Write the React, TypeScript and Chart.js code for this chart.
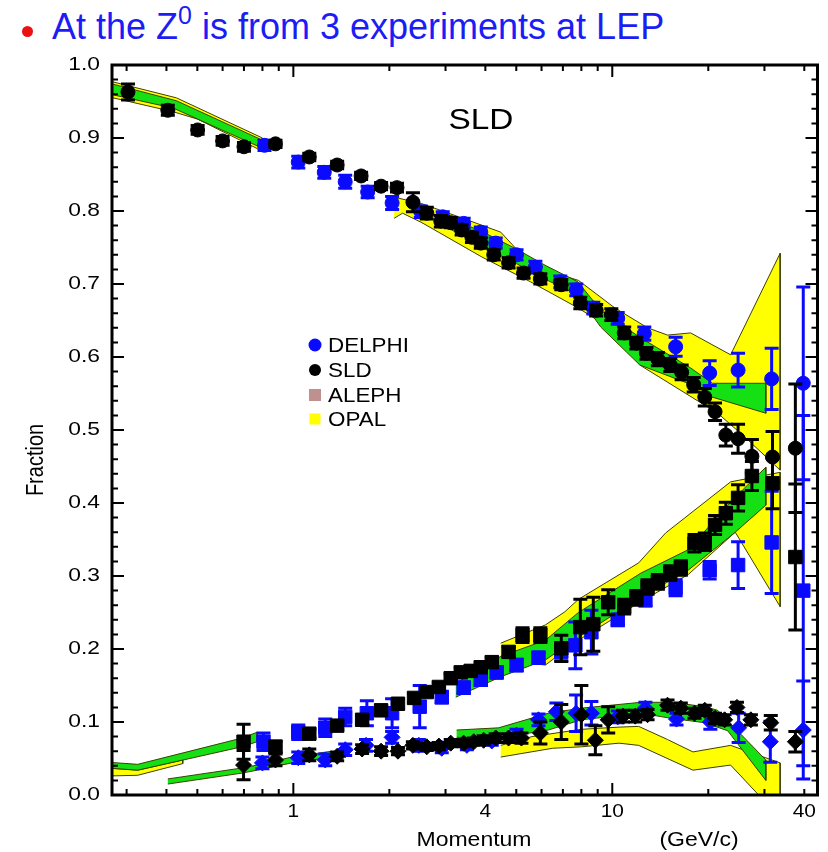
import React, { useEffect, useRef } from 'react';
import { Chart, registerables } from 'chart.js';

Chart.register(...registerables);

const FONT = '"Liberation Sans", Arial, Helvetica, sans-serif';
const BLUE = '#0a0aff';
const BLACK = '#000000';
const YELLOW = '#ffff00';
const GREEN = '#14e014';
const BAND_EDGE = '#3d4000';

// ---------- axes ----------
const X_MIN = 0.27;
const X_MAX = 44;
const X_LABELS = [1, 4, 10, 40];
const X_MAJOR_TICKS = [1, 10];
const X_MINOR_TICKS = [0.3, 0.4, 0.5, 0.6, 0.7, 0.8, 0.9, 2, 3, 4, 5, 6, 7, 8, 9, 20, 30, 40];
const Y_LABELS = [0, 0.1, 0.2, 0.3, 0.4, 0.5, 0.6, 0.7, 0.8, 0.9, 1.0];

// ---------- pions (circles) ----------
const sldPiX = [0.303, 0.404, 0.501, 0.6, 0.7, 0.879, 1.122, 1.372, 1.631, 1.884, 2.113, 2.371, 2.62, 2.9, 3.115, 3.37, 3.63, 3.87, 4.25, 4.73, 5.27, 5.95, 6.92, 7.94, 8.9, 9.93, 10.9, 11.9, 12.8, 13.9, 15.2, 16.5, 18.0, 19.5, 21.0, 22.7, 24.8, 27.4, 31.8, 37.5];
const sldPiY = [0.963, 0.938, 0.911, 0.896, 0.888, 0.892, 0.874, 0.863, 0.848, 0.834, 0.832, 0.812, 0.797, 0.786, 0.784, 0.774, 0.764, 0.756, 0.74, 0.729, 0.715, 0.707, 0.699, 0.674, 0.664, 0.658, 0.633, 0.619, 0.605, 0.597, 0.589, 0.579, 0.562, 0.545, 0.525, 0.493, 0.488, 0.464, 0.463, 0.475];
const sldPiErr = [0.011, 0.007, 0.006, 0.006, 0.006, 0.005, 0.005, 0.005, 0.005, 0.005, 0.006, 0.013, 0.008, 0.008, 0.007, 0.007, 0.007, 0.007, 0.007, 0.007, 0.007, 0.007, 0.007, 0.008, 0.008, 0.008, 0.008, 0.008, 0.008, 0.009, 0.009, 0.01, 0.01, 0.012, 0.012, 0.015, 0.02, 0.023, 0.035, 0.088];

const delPiX = [0.812, 1.036, 1.25, 1.454, 1.71, 2.04, 2.51, 2.94, 3.42, 3.87, 4.31, 5.01, 5.74, 6.87, 7.71, 8.72, 10.4, 12.6, 15.8, 20.2, 24.8, 31.6, 39.7];
const delPiY = [0.89, 0.867, 0.853, 0.84, 0.826, 0.811, 0.799, 0.792, 0.783, 0.771, 0.756, 0.74, 0.723, 0.703, 0.692, 0.667, 0.653, 0.632, 0.614, 0.578, 0.582, 0.57, 0.564];
const delPiErr = [0.007, 0.008, 0.008, 0.009, 0.008, 0.009, 0.008, 0.007, 0.007, 0.007, 0.007, 0.007, 0.008, 0.008, 0.008, 0.008, 0.008, 0.009, 0.013, 0.017, 0.023, 0.042, 0.132];

// ---------- kaons (squares) ----------
const sldKX = [0.698, 0.879, 1.122, 1.372, 1.643, 1.884, 2.128, 2.39, 2.62, 2.86, 3.115, 3.35, 3.6, 3.87, 4.19, 4.73, 5.23, 5.95, 6.92, 7.94, 8.72, 9.71, 10.9, 11.9, 12.9, 13.9, 15.2, 16.4, 18.1, 19.5, 21.0, 22.7, 24.8, 27.4, 31.8, 37.5];
const sldKY = [0.073, 0.066, 0.084, 0.095, 0.103, 0.116, 0.125, 0.133, 0.141, 0.148, 0.16, 0.168, 0.17, 0.175, 0.182, 0.196, 0.219, 0.219, 0.201, 0.23, 0.234, 0.264, 0.258, 0.27, 0.285, 0.292, 0.304, 0.311, 0.345, 0.347, 0.37, 0.386, 0.407, 0.437, 0.427, 0.326];
const sldKErr = [0.024, 0.008, 0.006, 0.006, 0.006, 0.006, 0.006, 0.006, 0.006, 0.006, 0.006, 0.007, 0.007, 0.007, 0.007, 0.007, 0.01, 0.01, 0.018, 0.038, 0.037, 0.017, 0.01, 0.01, 0.01, 0.01, 0.01, 0.01, 0.012, 0.012, 0.013, 0.015, 0.018, 0.02, 0.035, 0.1];

const delKX = [0.806, 1.036, 1.259, 1.454, 1.7, 2.04, 2.49, 2.92, 3.42, 3.87, 4.34, 5.01, 5.87, 6.92, 7.66, 8.6, 10.4, 12.7, 15.8, 20.2, 24.8, 31.6, 39.7];
const delKY = [0.073, 0.086, 0.092, 0.107, 0.112, 0.112, 0.121, 0.134, 0.147, 0.158, 0.168, 0.178, 0.188, 0.196, 0.205, 0.223, 0.24, 0.267, 0.284, 0.308, 0.315, 0.346, 0.28];
const delKErr = [0.012, 0.01, 0.012, 0.012, 0.017, 0.02, 0.029, 0.008, 0.008, 0.008, 0.008, 0.008, 0.008, 0.012, 0.032, 0.03, 0.008, 0.008, 0.011, 0.012, 0.032, 0.07, 0.24];

// ---------- protons (diamonds) ----------
const sldPX = [0.698, 0.879, 1.122, 1.372, 1.643, 1.884, 2.128, 2.37, 2.62, 2.86, 3.115, 3.42, 3.68, 3.95, 4.31, 4.73, 5.19, 5.95, 6.92, 8.0, 8.85, 9.71, 10.8, 11.8, 12.9, 14.9, 16.4, 18.1, 19.5, 21.0, 22.5, 24.6, 27.2, 31.4, 37.5];
const sldPY = [0.041, 0.048, 0.055, 0.053, 0.063, 0.06, 0.06, 0.068, 0.066, 0.067, 0.071, 0.071, 0.073, 0.075, 0.078, 0.078, 0.078, 0.085, 0.1, 0.11, 0.075, 0.103, 0.108, 0.108, 0.11, 0.123, 0.119, 0.112, 0.116, 0.105, 0.103, 0.12, 0.103, 0.099, 0.073];
const sldPErr = [0.02, 0.008, 0.008, 0.006, 0.006, 0.006, 0.005, 0.005, 0.005, 0.005, 0.005, 0.005, 0.005, 0.006, 0.006, 0.006, 0.007, 0.015, 0.024, 0.04, 0.02, 0.018, 0.008, 0.008, 0.007, 0.007, 0.007, 0.007, 0.007, 0.007, 0.007, 0.007, 0.007, 0.01, 0.014];

const delPX = [0.8, 1.036, 1.259, 1.454, 1.69, 2.04, 2.474, 2.92, 3.5, 4.19, 5.01, 5.87, 6.68, 7.7, 8.6, 10.4, 12.7, 15.9, 20.3, 24.9, 31.3, 39.7];
const delPY = [0.044, 0.051, 0.048, 0.062, 0.068, 0.079, 0.068, 0.064, 0.068, 0.074, 0.082, 0.103, 0.114, 0.112, 0.112, 0.107, 0.119, 0.104, 0.1, 0.092, 0.073, 0.089];
const delPErr = [0.008, 0.008, 0.008, 0.008, 0.008, 0.008, 0.008, 0.006, 0.006, 0.006, 0.008, 0.008, 0.012, 0.025, 0.016, 0.008, 0.008, 0.008, 0.01, 0.02, 0.028, 0.067];

// ---------- bands: [x, y] edges, each listed left to right ----------
const piLowYellowUp = [[0.26, 0.979], [0.43, 0.955], [0.8, 0.9]];
const piLowYellowLo = [[0.26, 0.957], [0.42, 0.936], [0.5, 0.926], [0.8, 0.882]];
const piLowGreenUp = [[0.26, 0.976], [0.43, 0.951], [0.8, 0.897]];
const piLowGreenLo = [[0.26, 0.961], [0.42, 0.941], [0.8, 0.886]];

const kLowYellowUp = [[0.26, 0.037], [0.325, 0.034], [0.45, 0.048]];
const kLowYellowLo = [[0.26, 0.026], [0.325, 0.027], [0.45, 0.043]];
const kLowGreenUp = [[0.26, 0.045], [0.325, 0.042], [0.69, 0.078], [0.77, 0.086]];
const kLowGreenLo = [[0.26, 0.037], [0.325, 0.034], [0.69, 0.066], [0.77, 0.073]];

const pLowGreenUp = [[0.404, 0.022], [0.69, 0.037], [0.77, 0.041], [0.99, 0.052], [1.32, 0.06]];
const pLowGreenLo = [[0.404, 0.015], [0.69, 0.03], [0.77, 0.034], [0.99, 0.044], [1.32, 0.052]];

const piHighYellowUp = [[2.07, 0.819], [2.53, 0.81], [3.4, 0.79], [4.47, 0.771], [5.46, 0.73], [6.17, 0.719], [7.83, 0.705], [10.2, 0.667], [12.9, 0.64], [14.9, 0.63], [17.6, 0.633], [23.5, 0.603], [33.6, 0.742]];
const piHighYellowLo = [[2.07, 0.79], [2.2, 0.797], [2.53, 0.784], [3.9, 0.737], [5.54, 0.703], [7.83, 0.667], [9.71, 0.641], [12.2, 0.589], [21.4, 0.523], [26.1, 0.49], [33.6, 0.445]];
const piHighGreenUp = [[2.9, 0.795], [3.9, 0.772], [5.0, 0.748], [6.2, 0.725], [7.8, 0.703], [9.2, 0.664], [12.2, 0.627], [17.6, 0.585], [20.6, 0.564], [30.3, 0.564]];
const piHighGreenLo = [[2.9, 0.782], [3.9, 0.752], [5.0, 0.728], [6.2, 0.706], [7.8, 0.685], [9.2, 0.641], [12.2, 0.589], [18.5, 0.559], [20.6, 0.545], [30.3, 0.523]];

const kHighYellowUp = [[4.47, 0.208], [6.17, 0.233], [7.1, 0.251], [7.83, 0.268], [12.1, 0.318], [14.7, 0.359], [23.5, 0.429], [33.6, 0.442]];
const kHighYellowLo = [[4.47, 0.186], [6.17, 0.178], [7.83, 0.212], [12.3, 0.265], [17.3, 0.302], [24.3, 0.36], [33.6, 0.258]];
const kHighGreenUp = [[3.23, 0.153], [4.47, 0.19], [6.17, 0.212], [7.83, 0.25], [12.3, 0.304], [17.3, 0.336], [24.3, 0.408], [30.3, 0.449]];
const kHighGreenLo = [[3.23, 0.134], [4.47, 0.162], [6.17, 0.185], [7.83, 0.216], [12.3, 0.271], [17.3, 0.308], [24.3, 0.36], [30.3, 0.397]];

const pHighYellowUp = [[4.47, 0.068], [5.6, 0.08], [8.0, 0.09], [10.5, 0.093], [12.1, 0.094], [14.9, 0.076], [17.9, 0.059], [23.5, 0.068], [33.6, 0.044]];
const pHighYellowLo = [[4.47, 0.052], [6.5, 0.064], [8.0, 0.066], [10.5, 0.071], [12.1, 0.068], [17.9, 0.034], [23.5, 0.041], [29.2, -0.003], [33.6, -0.003]];
const pHighGreenUp = [[3.25, 0.089], [4.4, 0.092], [6.3, 0.112], [8.0, 0.119], [12.3, 0.127], [15.3, 0.127], [19.5, 0.121], [21.4, 0.116], [30.3, 0.048]];
const pHighGreenLo = [[3.25, 0.079], [4.4, 0.078], [6.3, 0.089], [8.0, 0.103], [12.3, 0.112], [15.3, 0.105], [19.5, 0.099], [23.0, 0.088], [30.3, 0.02]];

// ---------- legend ----------
const LEGEND_LABELS = ['DELPHI', 'SLD', 'ALEPH', 'OPAL'];
const LEGEND_COLORS = [BLUE, BLACK, '#c09090', YELLOW];

const toPoints = (xs: number[], ys: number[]) => xs.map((x, i) => ({ x, y: ys[i] }));
const toShape = (up: number[][], lo: number[][]) =>
  [...up, ...lo.slice().reverse()].map(([x, y]) => ({ x, y }));

function band(up: number[][], lo: number[][], color: string, order: number) {
  return {
    data: toShape(up, lo),
    showLine: true,
    fill: 'shape',
    backgroundColor: color,
    borderColor: BAND_EDGE,
    borderWidth: 1,
    pointRadius: 0,
    tension: 0,
    order,
  };
}

function markers(xs: number[], ys: number[], errs: number[], color: string, style: string, radius: number, order: number) {
  return {
    data: toPoints(xs, ys),
    errors: errs,
    showLine: false,
    pointStyle: style,
    pointRadius: radius,
    pointBackgroundColor: color,
    pointBorderColor: color,
    pointBorderWidth: 1,
    backgroundColor: color,
    borderColor: color,
    order,
  };
}

function stretchText(ctx: CanvasRenderingContext2D, text: string, x: number, y: number, align: CanvasTextAlign, font: string, sx: number) {
  ctx.save();
  ctx.font = font;
  ctx.textAlign = align;
  ctx.textBaseline = 'middle';
  ctx.fillStyle = '#000';
  ctx.translate(x, y);
  ctx.scale(sx, 1);
  ctx.fillText(text, 0, 0);
  ctx.restore();
}

const errorBarPlugin = {
  id: 'errorBars',
  afterDatasetDraw(chart: any, args: any) {
    const ds = chart.data.datasets[args.index];
    if (!ds.errors) return;
    const { ctx, chartArea } = chart;
    const xs = chart.scales.x;
    const ys = chart.scales.y;
    ctx.save();
    ctx.beginPath();
    ctx.rect(chartArea.left, chartArea.top, chartArea.right - chartArea.left, chartArea.bottom - chartArea.top);
    ctx.clip();
    ctx.strokeStyle = ds.borderColor;
    ctx.lineWidth = 3;
    ds.data.forEach((p: any, i: number) => {
      const e = ds.errors[i];
      const px = xs.getPixelForValue(p.x);
      const y1 = ys.getPixelForValue(p.y + e);
      const y2 = ys.getPixelForValue(p.y - e);
      ctx.beginPath();
      ctx.moveTo(px, y1);
      ctx.lineTo(px, y2);
      ctx.moveTo(px - 7, y1);
      ctx.lineTo(px + 7, y1);
      ctx.moveTo(px - 7, y2);
      ctx.lineTo(px + 7, y2);
      ctx.stroke();
    });
    ctx.restore();
  },
};

const decorPlugin = {
  id: 'decor',
  afterDraw(chart: any) {
    const { ctx, chartArea } = chart;
    const { left, right, top, bottom } = chartArea;
    const xs = chart.scales.x;
    const ys = chart.scales.y;
    ctx.save();
    ctx.strokeStyle = '#000';
    // ticks (inward)
    ctx.lineWidth = 2;
    ctx.beginPath();
    const xTick = (v: number, len: number) => {
      const px = xs.getPixelForValue(v);
      ctx.moveTo(px, bottom);
      ctx.lineTo(px, bottom - len);
      ctx.moveTo(px, top);
      ctx.lineTo(px, top + len);
    };
    X_MINOR_TICKS.forEach((v) => xTick(v, 6));
    X_MAJOR_TICKS.forEach((v) => xTick(v, 12));
    for (let i = 0; i <= 50; i++) {
      const py = ys.getPixelForValue(i * 0.02);
      const len = i % 5 === 0 ? 12 : 6;
      ctx.moveTo(left, py);
      ctx.lineTo(left + len, py);
      ctx.moveTo(right, py);
      ctx.lineTo(right - len, py);
    }
    ctx.stroke();
    // frame
    ctx.lineWidth = 3;
    ctx.strokeRect(left, top, right - left, bottom - top);
    ctx.restore();

    // tick labels
    Y_LABELS.forEach((v) => {
      stretchText(ctx, v.toFixed(1), left - 12, ys.getPixelForValue(v), 'right', `19px ${FONT}`, 1.2);
    });
    X_LABELS.forEach((v) => {
      stretchText(ctx, String(v), xs.getPixelForValue(v), bottom + 17, 'center', `19px ${FONT}`, 1.1);
    });

    // axis titles
    stretchText(ctx, 'Momentum', 474, 840, 'center', `20px ${FONT}`, 1.15);
    stretchText(ctx, '(GeV/c)', 699, 840, 'center', `20px ${FONT}`, 1.15);
    ctx.save();
    ctx.font = `20px ${FONT}`;
    ctx.fillStyle = '#000';
    ctx.textAlign = 'center';
    ctx.textBaseline = 'middle';
    ctx.translate(37, 460);
    ctx.rotate(-Math.PI / 2);
    ctx.scale(1, 1.15);
    ctx.fillText('Fraction', 0, 0);
    ctx.restore();

    // in-plot label
    stretchText(ctx, 'SLD', 481, 121, 'center', `29px ${FONT}`, 1.15);

    // legend
    const rows = [345, 370, 395, 419];
    LEGEND_LABELS.forEach((label, i) => {
      const y = rows[i];
      ctx.save();
      ctx.fillStyle = LEGEND_COLORS[i];
      if (i < 2) {
        ctx.beginPath();
        ctx.arc(315, y, i === 0 ? 6.5 : 6, 0, Math.PI * 2);
        ctx.fill();
      } else {
        const s = i === 2 ? 12 : 11;
        ctx.fillRect(315 - s / 2, y - s / 2, s, s);
      }
      ctx.restore();
      stretchText(ctx, label, 328, y + 1, 'left', `20px ${FONT}`, 1.12);
    });
  },
};

export default function App() {
  const canvasRef = useRef<HTMLCanvasElement | null>(null);

  useEffect(() => {
    if (!canvasRef.current) return;
    const datasets: any[] = [
      band(piLowYellowUp, piLowYellowLo, YELLOW, 30),
      band(kLowYellowUp, kLowYellowLo, YELLOW, 30),
      band(piHighYellowUp, piHighYellowLo, YELLOW, 30),
      band(kHighYellowUp, kHighYellowLo, YELLOW, 30),
      band(pHighYellowUp, pHighYellowLo, YELLOW, 30),
      band(piLowGreenUp, piLowGreenLo, GREEN, 20),
      band(kLowGreenUp, kLowGreenLo, GREEN, 20),
      band(pLowGreenUp, pLowGreenLo, GREEN, 20),
      band(piHighGreenUp, piHighGreenLo, GREEN, 20),
      band(kHighGreenUp, kHighGreenLo, GREEN, 20),
      band(pHighGreenUp, pHighGreenLo, GREEN, 20),
      markers(delPiX, delPiY, delPiErr, BLUE, 'circle', 7, 5),
      markers(delKX, delKY, delKErr, BLUE, 'rect', 9.5, 5),
      markers(delPX, delPY, delPErr, BLUE, 'rectRot', 8, 5),
      markers(sldPiX, sldPiY, sldPiErr, BLACK, 'circle', 7, 1),
      markers(sldKX, sldKY, sldKErr, BLACK, 'rect', 9.5, 1),
      markers(sldPX, sldPY, sldPErr, BLACK, 'rectRot', 8, 1),
    ];
    const chart = new Chart(canvasRef.current, {
      type: 'scatter',
      data: { datasets },
      options: {
        animation: false,
        responsive: false,
        maintainAspectRatio: false,
        layout: { padding: { left: 112, top: 65, right: 8, bottom: 57 } },
        plugins: {
          legend: { display: false },
          tooltip: { enabled: false },
          title: { display: false },
        },
        scales: {
          x: { type: 'logarithmic', min: X_MIN, max: X_MAX, display: false },
          y: { type: 'linear', min: 0, max: 1, display: false },
        },
      } as any,
      plugins: [errorBarPlugin, decorPlugin] as any,
    });
    return () => chart.destroy();
  }, []);

  return (
    <div style={{ position: 'absolute', left: 0, top: 0, width: 828, height: 852, background: '#fff', overflow: 'hidden' }}>
      <div
        style={{
          position: 'absolute',
          left: 22,
          top: 26,
          width: 11,
          height: 11,
          borderRadius: '50%',
          background: '#ee1111',
        }}
      />
      <div
        style={{
          position: 'absolute',
          left: 52,
          top: 5,
          fontFamily: FONT,
          fontSize: 36,
          lineHeight: '44px',
          color: '#1c1cf5',
          whiteSpace: 'nowrap',
        }}
      >
        At the Z<span style={{ fontSize: 25, position: 'relative', top: -15 }}>0</span> is from 3 experiments at LEP
      </div>
      <canvas ref={canvasRef} width={828} height={852} style={{ position: 'absolute', left: 0, top: 0 }} />
    </div>
  );
}
